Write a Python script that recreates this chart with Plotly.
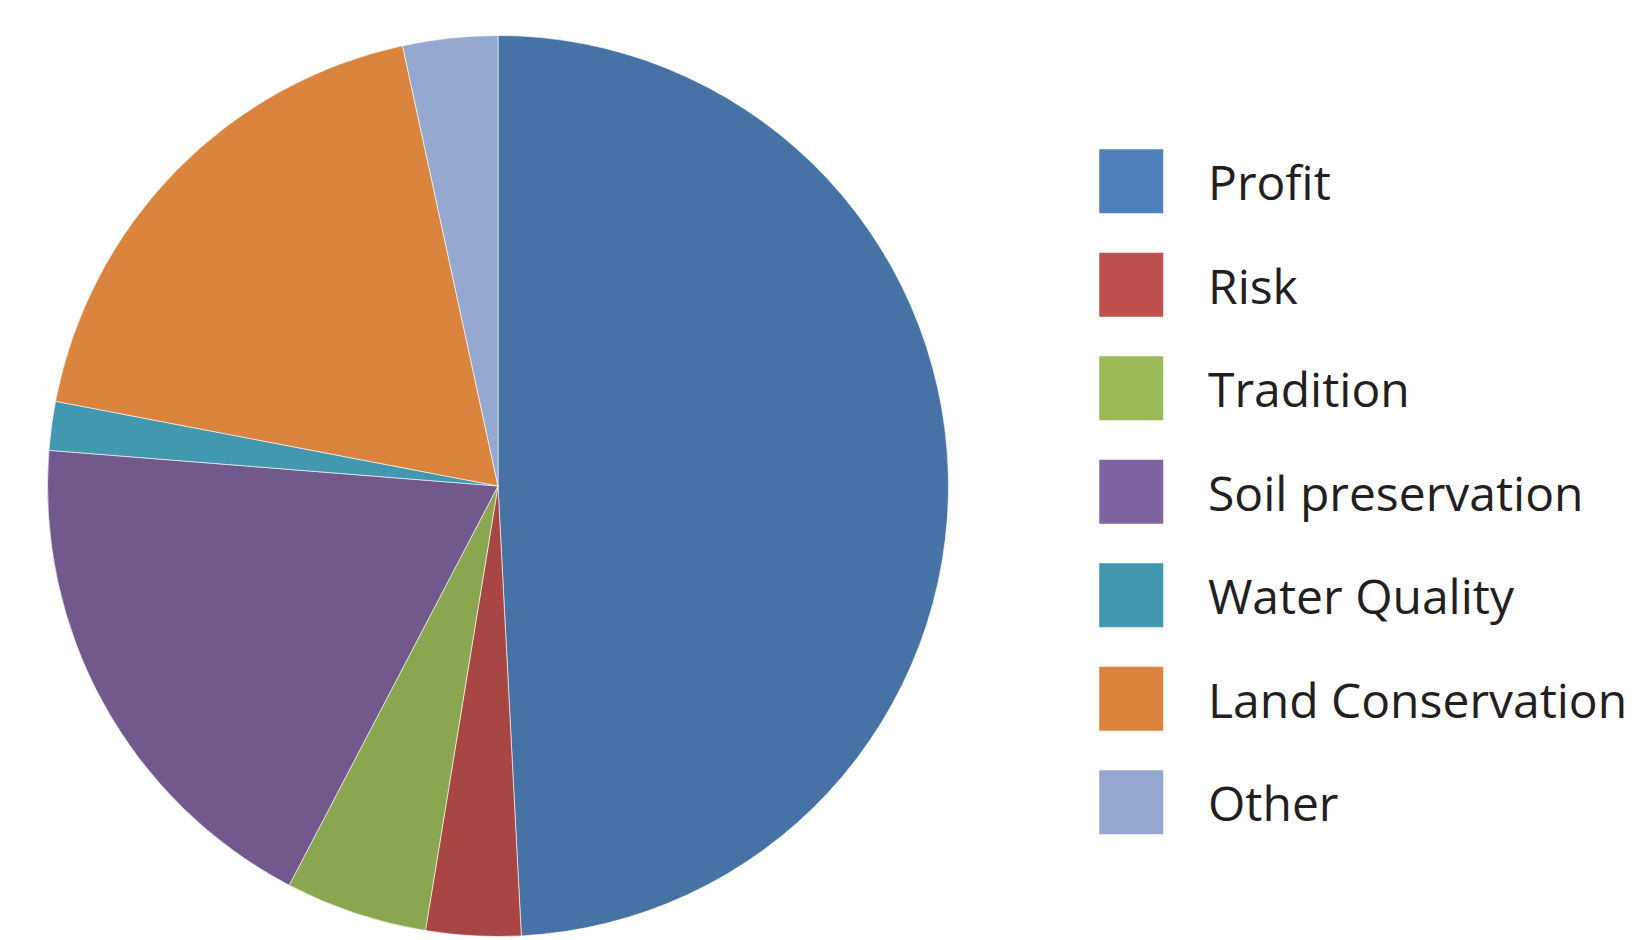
import plotly.graph_objects as go

labels = ["Profit", "Risk", "Tradition", "Soil preservation", "Water Quality", "Land Conservation", "Other"]
values = [49.2, 3.4, 5.1, 18.6, 1.75, 18.6, 3.4]
slice_colors = ["#4672A6", "#A84644", "#8AA64F", "#72598D", "#4198AF", "#DB843D", "#95A9D0"]
legend_colors = ["#4F81BD", "#C0504D", "#9BBB59", "#8064A2", "#4198AF", "#DB843D", "#95A9D0"]

W, H = 1634, 940
fig = go.Figure()

fig.add_trace(go.Pie(
    labels=labels, values=values, sort=False, direction="clockwise", rotation=0,
    marker=dict(colors=slice_colors, line=dict(color="rgba(255,255,255,0.6)", width=1)),
    textinfo="none", showlegend=False,
    domain=dict(x=[39.5 / W, 940.5 / W], y=[1 - 928.5 / H, 1 - 27.5 / H]),
))

marker_px = 1123.25
px_per_x = 76.75
first_px = 173.25
px_per_y = 103.48
text_drop = 7.0 / px_per_y

idx = list(range(len(labels)))
fig.add_trace(go.Scatter(
    x=[0] * len(labels), y=idx, mode="markers",
    marker=dict(symbol="square", size=64, color=legend_colors, line=dict(width=0)),
    hovertext=labels, hoverinfo="text", showlegend=False,
))
fig.add_trace(go.Scatter(
    x=[1] * len(labels), y=[i + text_drop for i in idx], mode="text", text=labels,
    textposition="middle right",
    textfont=dict(family="Open Sans", size=48, color="#231F20"),
    hoverinfo="skip", showlegend=False,
))

fig.update_layout(
    width=W, height=H, margin=dict(l=0, r=0, t=0, b=0),
    paper_bgcolor="white", plot_bgcolor="rgba(0,0,0,0)",
    xaxis=dict(visible=False, range=[-marker_px / px_per_x, (W - marker_px) / px_per_x], fixedrange=True),
    yaxis=dict(visible=False, range=[6 + (H - (first_px + 6 * px_per_y)) / px_per_y, -first_px / px_per_y],
               fixedrange=True),
)

fig.write_html("out.html")
